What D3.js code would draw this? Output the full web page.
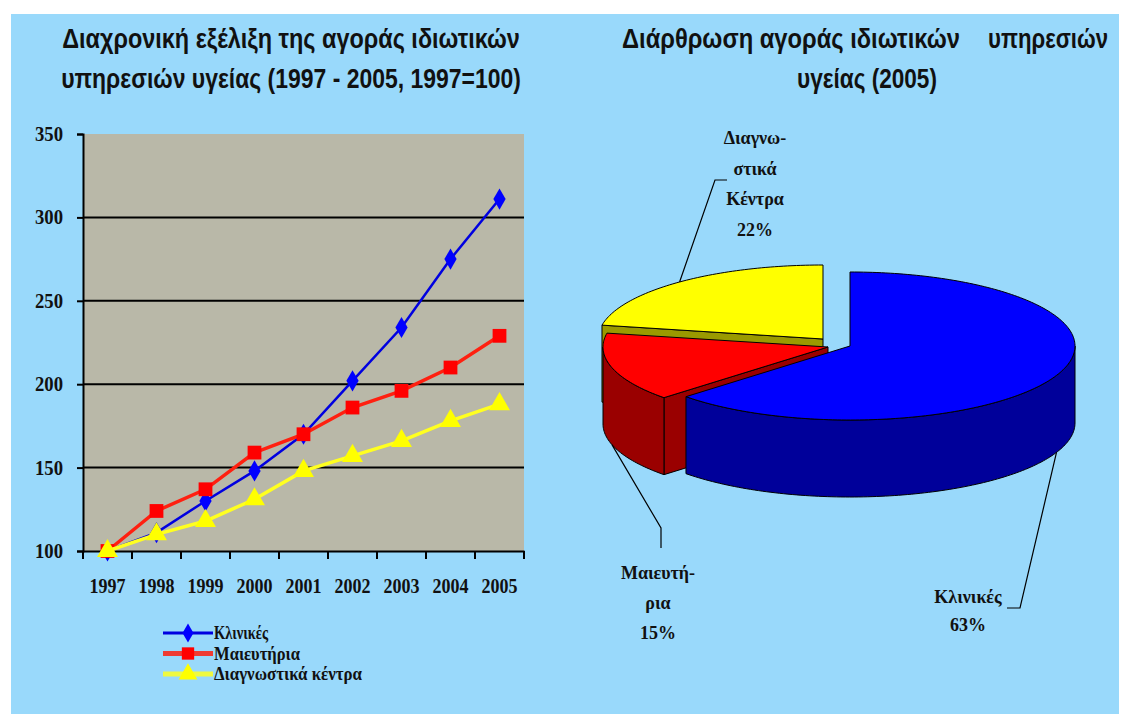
<!DOCTYPE html>
<html>
<head>
<meta charset="utf-8">
<script src="https://cdn.jsdelivr.net/npm/d3@7/dist/d3.min.js"></script>
<style>
  html, body { margin: 0; padding: 0; background: #ffffff; }
  svg { display: block; }
  .title { font-family: "Liberation Sans", Arial, sans-serif; font-weight: bold; font-size: 27px; fill: #111; }
  .serif { font-family: "Liberation Serif", "DejaVu Serif", serif; font-weight: bold; fill: #111; }
</style>
</head>
<body>
<svg id="chart" width="1126" height="714"></svg>
<script>
// ---------------- DATA ----------------
const years = ["1997", "1998", "1999", "2000", "2001", "2002", "2003", "2004", "2005"];
const klinikes = [100, 111, 130, 148, 170, 202, 234, 275, 311];
const maieftiria = [100, 124, 137, 159, 170, 186, 196, 210, 229];
const diagnostika = [100, 110, 118, 131, 148, 157, 166, 178, 188];
const seriesNames = ["Κλινικές", "Μαιευτήρια", "Διαγνωστικά κέντρα"];
const yTicks = [100, 150, 200, 250, 300, 350];

const pieLabels = ["Κλινικές", "Μαιευτήρια", "Διαγνωστικά Κέντρα"];
const pieValues = [63, 15, 22];
const pieLabelLines = [["Κλινικές", "63%"], ["Μαιευτή-", "ρια", "15%"], ["Διαγνω-", "στικά", "Κέντρα", "22%"]];

const leftTitle = ["Διαχρονική εξέλιξη της αγοράς ιδιωτικών", "υπηρεσιών υγείας (1997 - 2005, 1997=100)"];
const rightTitleA = ["Διάρθρωση αγοράς ιδιωτικών", "υπηρεσιών"];
const rightTitleB = "υγείας (2005)";

// ---------------- STYLE ----------------
const bgColor = "#99d9fb";
const plotBg = "#b9b8a8";
const lineColors = ["#0000e0", "#ff2010", "#ffff20"];
const topColors = ["#0000ff", "#ff0000", "#ffff00"];
const sideColors = ["#00009a", "#9a0000", "#9a9a00"];

const svg = d3.select("#chart");
svg.append("rect").attr("x", 0).attr("y", 0).attr("width", 1126).attr("height", 714).attr("fill", "#fff");
svg.append("rect").attr("x", 11).attr("y", 14).attr("width", 1108).attr("height", 700).attr("fill", bgColor);

// ---------------- TITLES (condensed via horizontal scaling) ----------------
function titleText(str, x, yPos, w, anchor) {
  const g = svg.append("g");
  const t = g.append("text").attr("class", "title").attr("text-anchor", anchor).attr("x", 0).attr("y", 0).text(str);
  const natural = t.node().getComputedTextLength();
  const sx = w / natural;
  g.attr("transform", `translate(${x},${yPos}) scale(${sx},1)`);
}
titleText(leftTitle[0], 291, 48, 458, "middle");
titleText(leftTitle[1], 291, 88, 460, "middle");
titleText(rightTitleA[0], 622, 48, 338, "start");
titleText(rightTitleA[1], 1108, 48, 120, "end");
titleText(rightTitleB, 867, 88, 140, "middle");

// ---------------- LINE CHART ----------------
const plot = { left: 83, right: 524, top: 134, bottom: 551 };
const x = d3.scaleBand().domain(years).range([plot.left, plot.right]).padding(0);
const y = d3.scaleLinear().domain([100, 350]).range([plot.bottom, plot.top]);
const xc = d => x(d) + x.bandwidth() / 2;

svg.append("rect").attr("x", plot.left).attr("y", plot.top)
  .attr("width", plot.right - plot.left).attr("height", plot.bottom - plot.top).attr("fill", plotBg);

svg.append("g").selectAll("line").data(yTicks.filter(v => v > 100 && v < 350)).join("line")
  .attr("x1", plot.left).attr("x2", plot.right).attr("y1", d => y(d)).attr("y2", d => y(d))
  .attr("stroke", "#000").attr("stroke-width", 2);

const tickFont = sel => sel.attr("font-size", 20).style("font-family", "'Liberation Serif', serif")
  .style("font-weight", "bold").attr("fill", "#111").attr("lengthAdjust", "spacingAndGlyphs");

const yAxis = d3.axisLeft(y).tickValues(yTicks).tickSize(6).tickPadding(14);
const gy = svg.append("g").attr("transform", `translate(${plot.left},0)`).call(yAxis);
gy.select(".domain").attr("stroke", "#000").attr("stroke-width", 2);
gy.selectAll(".tick line").attr("stroke", "#000").attr("stroke-width", 2);
gy.selectAll(".tick text").call(tickFont).attr("textLength", 28);

const xAxis = d3.axisBottom(x).tickSize(0).tickPadding(28);
const gx = svg.append("g").attr("transform", `translate(0,${plot.bottom})`).call(xAxis);
gx.select(".domain").attr("stroke", "#000").attr("stroke-width", 2);
gx.selectAll(".tick text").call(tickFont).attr("textLength", 36);
const edges = years.map(d => x(d)).concat([x(years[years.length - 1]) + x.bandwidth()]);
svg.append("g").selectAll("line").data(edges).join("line")
  .attr("x1", d => d).attr("x2", d => d).attr("y1", plot.bottom).attr("y2", plot.bottom + 8)
  .attr("stroke", "#000").attr("stroke-width", 2);

const allSeries = [klinikes, maieftiria, diagnostika];
const lineGen = d3.line().x((d, i) => xc(years[i])).y(d => y(d));
const markerTypes = [d3.symbolDiamond, d3.symbolSquare, d3.symbolTriangle];
const markerSizes = [130, 190, 190];
const lineWidths = [2.5, 3.5, 3.5];

allSeries.forEach((s, k) => {
  svg.append("path").datum(s).attr("d", lineGen).attr("fill", "none")
    .attr("stroke", lineColors[k]).attr("stroke-width", lineWidths[k]);
  svg.append("g").selectAll("path").data(s).join("path")
    .attr("transform", (d, i) => `translate(${xc(years[i])},${y(d)})`)
    .attr("d", d3.symbol().type(markerTypes[k]).size(markerSizes[k]))
    .attr("fill", topColors[k]);
});

// legend
const legendWidths = [54, 86, 148];
const legend = svg.append("g");
seriesNames.forEach((n, k) => {
  const ly = 633 + k * 20.5;
  legend.append("line").attr("x1", 163).attr("x2", 213).attr("y1", ly).attr("y2", ly)
    .attr("stroke", lineColors[k]).attr("stroke-width", k === 0 ? 3 : 5).attr("opacity", k === 0 ? 1 : 0.85);
  legend.append("path").attr("transform", `translate(188,${ly})`)
    .attr("d", d3.symbol().type(markerTypes[k]).size(markerSizes[k] * 0.8)).attr("fill", topColors[k]);
  legend.append("text").attr("class", "serif").attr("x", 214).attr("y", ly + 6)
    .attr("font-size", 18).attr("textLength", legendWidths[k]).attr("lengthAdjust", "spacingAndGlyphs").text(n);
});

// ---------------- 3D PIE ----------------
const rx = 225, ry = 74, depth = 77;
const sliceCenters = [[850, 346], [828, 347], [823, 339]];
const pie = d3.pie().sort(null).startAngle(0).endAngle(2 * Math.PI)(pieValues);

function pt(c, a, dz) { return [c[0] + rx * Math.sin(a), c[1] - ry * Math.cos(a) + (dz || 0)]; }
function arcPts(c, a0, a1, dz) {
  const n = Math.max(2, Math.ceil((a1 - a0) / 0.02));
  const out = [];
  for (let i = 0; i <= n; i++) out.push(pt(c, a0 + (a1 - a0) * i / n, dz));
  return out;
}
const poly = pts => "M" + pts.map(p => p[0].toFixed(2) + "," + p[1].toFixed(2)).join("L") + "Z";

const pieG = svg.append("g");
const drawOrder = [2, 1, 0];
drawOrder.forEach(k => {
  const s = pie[k], c = sliceCenters[k];
  const a0 = s.startAngle, a1 = s.endAngle;
  [[a0, a0 - Math.PI / 2], [a1, a1 + Math.PI / 2]].forEach(([a, nrm]) => {
    if (-Math.cos(nrm) > 0.001) {
      const e = pt(c, a), eb = pt(c, a, depth);
      pieG.append("path").attr("d", poly([c, e, eb, [c[0], c[1] + depth]]))
        .attr("fill", sideColors[k]).attr("stroke", "#000").attr("stroke-width", 1);
    }
  });
  const w0 = Math.max(a0, Math.PI / 2), w1 = Math.min(a1, 3 * Math.PI / 2);
  if (w1 > w0) {
    const top = arcPts(c, w0, w1, 0), bot = arcPts(c, w0, w1, depth).reverse();
    pieG.append("path").attr("d", poly(top.concat(bot)))
      .attr("fill", sideColors[k]).attr("stroke", "#000").attr("stroke-width", 1);
  }
  pieG.append("path").attr("d", poly([c].concat(arcPts(c, a0, a1, 0))))
    .attr("fill", topColors[k]).attr("stroke", "#000").attr("stroke-width", 1);
});

const labelLayout = [
  { cx: 968, y0: 603, dy: 28, leader: [[1007, 608], [1020, 608]], onSide: true },
  { cx: 658, y0: 579, dy: 30, leader: [[661, 548], [661, 528]], onSide: true },
  { cx: 755, y0: 144, dy: 30.5, leader: [[727, 180], [715, 180]], onSide: false }
];
pie.forEach((s, k) => {
  const L = labelLayout[k];
  const mid = (s.startAngle + s.endAngle) / 2;
  const end = pt(sliceCenters[k], mid, L.onSide ? depth : 0);
  pieG.append("path").attr("d", d3.line()(L.leader.concat([end])))
    .attr("fill", "none").attr("stroke", "#000").attr("stroke-width", 1.2);
  const t = pieG.append("text").attr("class", "serif").attr("text-anchor", "middle").attr("font-size", 18);
  pieLabelLines[k].forEach((ln, i) => t.append("tspan").attr("x", L.cx).attr("y", L.y0 + i * L.dy).text(ln));
});
</script>
</body>
</html>
